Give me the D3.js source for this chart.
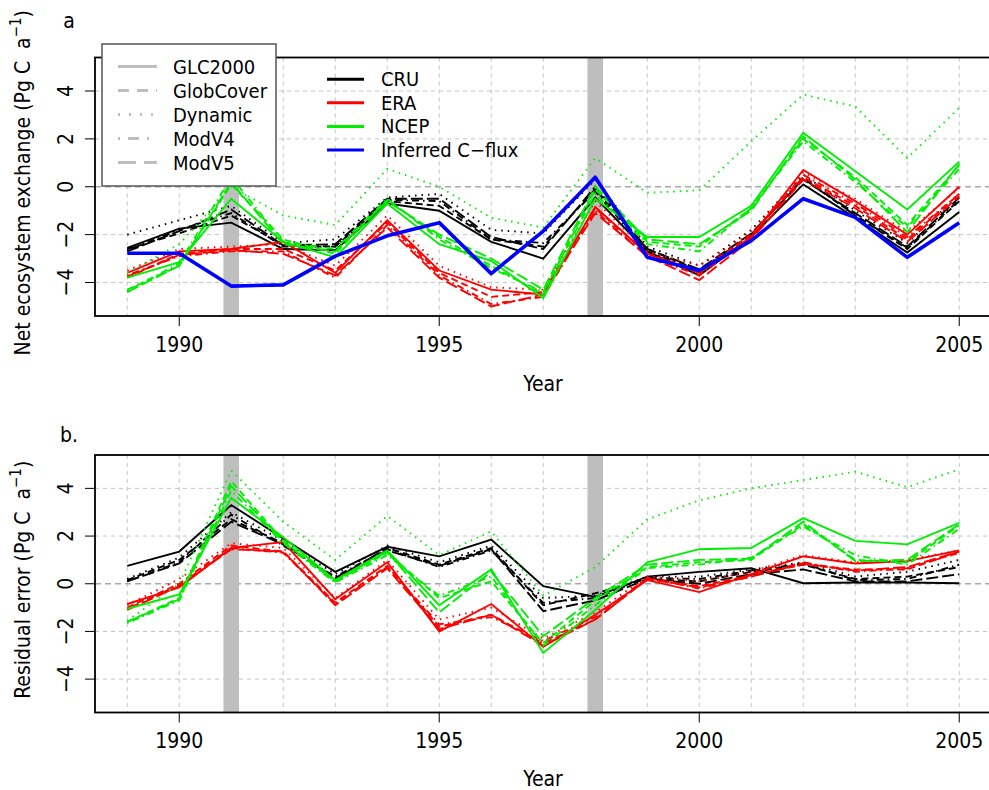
<!DOCTYPE html>
<html>
<head>
<meta charset="utf-8">
<script src="https://cdn.jsdelivr.net/npm/d3@7/dist/d3.min.js"></script>
<style>
  body { margin: 0; background: #fff; }
  svg { font-family: "DejaVu Sans Condensed", "DejaVu Sans", sans-serif; }
</style>
</head>
<body>
<div class="container"></div>
<script>
// x values
const years = [1989, 1990, 1991, 1992, 1993, 1994, 1995, 1996, 1997, 1998, 1999, 2000, 2001, 2002, 2003, 2004, 2005];
const xTicks = [1990, 1995, 2000, 2005];
const yTicks = [-4, -2, 0, 2, 4];
const highlightYears = [1991, 1998];

const drivers = ["CRU", "ERA", "NCEP"];
const covers = ["GLC2000", "GlobCover", "Dynamic", "ModV4", "ModV5"];

// panel a - net ecosystem exchange, one array per driver x land cover
const neeCRU_GLC2000   = [-2.55, -1.75, -1.5, -2.6, -2.65, -0.7, -1.0, -2.3, -3.0, -0.45, -2.7, -3.7, -2.1, 0.1, -1.3, -2.75, -1.05];
const neeCRU_GlobCover = [-2.6, -1.95, -1.2, -2.45, -2.5, -0.6, -0.8, -2.2, -2.5, -0.1, -2.6, -3.5, -2.0, 0.4, -1.2, -2.6, -0.6];
const neeCRU_Dynamic   = [-2.0, -1.4, -0.8, -2.35, -2.2, -0.45, -0.3, -1.8, -1.95, 0.3, -2.5, -3.3, -1.8, 0.5, -1.0, -2.35, -0.35];
const neeCRU_ModV4     = [-2.65, -1.8, -1.1, -2.5, -2.5, -0.55, -0.6, -2.2, -2.35, -0.2, -2.7, -3.5, -2.0, 0.35, -1.2, -2.55, -0.55];
const neeCRU_ModV5     = [-2.7, -1.85, -0.95, -2.45, -2.4, -0.5, -0.5, -2.1, -2.6, 0.0, -2.6, -3.45, -1.95, 0.3, -1.1, -2.5, -0.45];

const neeERA_GLC2000   = [-3.6, -2.7, -2.6, -2.3, -3.6, -1.4, -3.5, -4.3, -4.5, -0.85, -2.8, -3.6, -2.1, 0.7, -0.6, -2.0, 0.0];
const neeERA_GlobCover = [-3.8, -2.8, -2.6, -2.6, -3.5, -1.5, -3.6, -4.6, -4.4, -0.9, -2.8, -3.5, -2.0, 0.4, -0.8, -2.2, -0.3];
const neeERA_Dynamic   = [-3.5, -2.6, -2.5, -2.4, -3.3, -1.2, -3.3, -4.2, -4.3, -0.6, -2.7, -3.3, -1.9, 0.6, -0.5, -1.9, -0.05];
const neeERA_ModV4     = [-3.7, -2.9, -2.7, -2.7, -3.8, -1.6, -3.7, -4.9, -4.6, -1.0, -2.9, -3.7, -2.1, 0.5, -0.7, -2.1, -0.3];
const neeERA_ModV5     = [-3.75, -2.85, -2.65, -2.8, -3.7, -1.7, -3.8, -5.0, -4.5, -1.1, -2.9, -3.9, -2.2, 0.3, -0.9, -2.3, -0.4];

const neeNCEP_GLC2000   = [-3.8, -3.15, -0.5, -2.3, -2.95, -0.7, -2.4, -3.1, -4.65, -0.5, -2.1, -2.1, -0.8, 2.25, 0.65, -0.95, 1.05];
const neeNCEP_GlobCover = [-4.3, -3.3, 0.1, -2.2, -2.8, -0.55, -2.1, -3.3, -4.5, -0.1, -2.3, -2.5, -0.9, 2.0, 0.4, -1.6, 0.9];
const neeNCEP_Dynamic   = [-3.6, -2.4, 0.0, -1.2, -1.6, 0.75, 0.0, -1.3, -1.7, 1.2, -0.25, -0.15, 1.9, 3.85, 3.35, 1.2, 3.3];
const neeNCEP_ModV4     = [-4.35, -3.2, 0.4, -2.3, -2.6, -0.5, -2.2, -3.4, -4.4, -0.3, -2.4, -2.7, -0.9, 1.9, 0.2, -1.7, 0.75];
const neeNCEP_ModV5     = [-4.4, -3.3, 0.2, -2.4, -2.7, -0.6, -2.0, -3.0, -4.3, 0.0, -2.2, -2.4, -1.0, 2.1, 0.3, -1.9, 0.95];

const inferredFlux = [-2.78, -2.78, -4.15, -4.1, -2.9, -2.05, -1.5, -3.63, -1.85, 0.4, -2.95, -3.5, -2.25, -0.5, -1.28, -2.95, -1.5];

// panel b - residual error
const resCRU_GLC2000   = [0.75, 1.35, 3.3, 1.9, 0.5, 1.55, 1.15, 1.85, -0.1, -0.55, 0.3, 0.5, 0.65, 0.02, 0.05, 0.05, 0.02];
const resCRU_GlobCover = [0.15, 1.0, 2.7, 1.7, 0.2, 1.5, 0.8, 1.5, -0.9, -0.4, 0.2, 0.1, 0.5, 0.8, 0.2, 0.3, 0.7];
const resCRU_Dynamic   = [0.2, 1.1, 3.0, 1.8, 0.4, 1.6, 0.9, 1.6, -0.6, -0.5, 0.3, 0.3, 0.6, 0.9, 0.3, 0.5, 1.0];
const resCRU_ModV4     = [0.1, 0.9, 2.9, 1.6, 0.3, 1.45, 0.7, 1.4, -0.8, -0.6, 0.25, 0.2, 0.55, 0.85, 0.15, 0.2, 0.8];
const resCRU_ModV5     = [0.1, 0.85, 2.6, 1.65, 0.25, 1.4, 0.75, 1.45, -1.15, -0.7, 0.2, 0.0, 0.4, 0.6, 0.1, 0.1, 0.4];

const resERA_GLC2000   = [-0.85, -0.15, 1.5, 1.75, -0.65, 0.9, -2.0, -0.85, -2.65, -1.3, 0.15, -0.35, 0.4, 1.15, 0.85, 0.95, 1.4];
const resERA_GlobCover = [-1.0, 0.0, 1.6, 1.35, -0.8, 0.75, -1.8, -1.3, -2.5, -1.5, 0.2, -0.1, 0.35, 0.8, 0.6, 0.6, 1.35];
const resERA_Dynamic   = [-0.9, 0.2, 1.7, 1.5, -0.6, 1.0, -1.5, -1.0, -2.3, -1.2, 0.3, 0.1, 0.5, 1.2, 0.9, 1.0, 1.4];
const resERA_ModV4     = [-1.05, -0.05, 1.5, 1.3, -0.85, 0.7, -1.7, -1.4, -2.4, -1.4, 0.25, -0.2, 0.3, 0.9, 0.5, 0.65, 1.3];
const resERA_ModV5     = [-1.1, -0.1, 1.45, 1.35, -0.9, 0.65, -1.9, -1.3, -2.6, -1.5, 0.2, -0.15, 0.3, 0.85, 0.55, 0.7, 1.35];

const resNCEP_GLC2000   = [-1.05, -0.45, 3.6, 1.95, 0.15, 1.4, -0.9, 0.6, -2.9, -1.1, 0.9, 1.45, 1.5, 2.75, 1.8, 1.65, 2.55];
const resNCEP_GlobCover = [-1.6, -0.6, 4.3, 1.8, 0.1, 1.3, -0.6, 0.1, -2.5, -0.7, 0.7, 0.9, 1.0, 2.5, 1.0, 0.9, 2.45];
const resNCEP_Dynamic   = [-1.55, 0.0, 4.75, 2.6, 1.0, 2.85, 1.2, 2.2, -0.5, 0.7, 2.7, 3.5, 4.0, 4.35, 4.7, 4.05, 4.8];
const resNCEP_ModV4     = [-1.65, -0.7, 3.9, 1.7, 0.05, 1.2, -0.5, 0.3, -2.6, -0.9, 0.65, 0.8, 1.1, 2.4, 1.2, 0.8, 2.3];
const resNCEP_ModV5     = [-1.6, -0.65, 4.1, 1.75, 0.1, 1.35, -1.2, 0.5, -2.2, -0.6, 0.8, 1.0, 1.05, 2.6, 0.95, 1.0, 2.5];

// lookup tables built from the arrays above
const neeSeries = {
  CRU:  [neeCRU_GLC2000, neeCRU_GlobCover, neeCRU_Dynamic, neeCRU_ModV4, neeCRU_ModV5],
  ERA:  [neeERA_GLC2000, neeERA_GlobCover, neeERA_Dynamic, neeERA_ModV4, neeERA_ModV5],
  NCEP: [neeNCEP_GLC2000, neeNCEP_GlobCover, neeNCEP_Dynamic, neeNCEP_ModV4, neeNCEP_ModV5]
};
const resSeries = {
  CRU:  [resCRU_GLC2000, resCRU_GlobCover, resCRU_Dynamic, resCRU_ModV4, resCRU_ModV5],
  ERA:  [resERA_GLC2000, resERA_GlobCover, resERA_Dynamic, resERA_ModV4, resERA_ModV5],
  NCEP: [resNCEP_GLC2000, resNCEP_GlobCover, resNCEP_Dynamic, resNCEP_ModV4, resNCEP_ModV5]
};

const colors = { CRU: "#000000", ERA: "#ff0000", NCEP: "#00ee00", flux: "#0000ff" };
const dashes = { GLC2000: null, GlobCover: "7,4", Dynamic: "1.5,5", ModV4: "1.5,4,7,4", ModV5: "12,4" };
const legendDashes = { GLC2000: null, GlobCover: "11,8", Dynamic: "2,9", ModV4: "2,8,11,8", ModV5: "18,8" };

const w = 989, h = 790;
const left = 95, right = 991.5;

const svg = d3.select(".container")
  .append("svg")
  .attr("width", w)
  .attr("height", h);

const x = d3.scaleLinear().domain([1988.38, 2005.62]).range([left, right]);

function drawPanel(top, bottom, series, label, labelY, yTitle, tickBase, yearBase, withFlux) {
  const y = d3.scaleLinear().domain([-5.4, 5.4]).range([bottom, top]);
  const g = svg.append("g");

  // grid
  g.selectAll(".vgrid").data(years).enter().append("line")
    .attr("x1", d => x(d)).attr("x2", d => x(d))
    .attr("y1", top).attr("y2", bottom)
    .attr("stroke", "#c4c4c4").attr("stroke-dasharray", "4,4");
  g.selectAll(".hgrid").data(yTicks).enter().append("line")
    .attr("x1", left).attr("x2", right)
    .attr("y1", d => y(d)).attr("y2", d => y(d))
    .attr("stroke", d => d === 0 ? "#a8a8a8" : "#c4c4c4")
    .attr("stroke-width", d => d === 0 ? 1.3 : 1)
    .attr("stroke-dasharray", d => d === 0 ? "6,4" : "4,4");

  // gray bars at years of interest
  g.selectAll(".hl").data(highlightYears).enter().append("rect")
    .attr("x", d => x(d - 0.15))
    .attr("width", d => x(d + 0.15) - x(d - 0.15))
    .attr("y", top).attr("height", bottom - top)
    .attr("fill", "#bebebe");

  const line = d3.line().x((d, i) => x(years[i])).y(d => y(d));

  drivers.forEach(dr => {
    series[dr].forEach((vals, k) => {
      g.append("path")
        .datum(vals)
        .attr("d", line)
        .attr("fill", "none")
        .attr("stroke", colors[dr])
        .attr("stroke-width", 1.9)
        .attr("stroke-dasharray", dashes[covers[k]]);
    });
  });

  if (withFlux) {
    g.append("path")
      .datum(inferredFlux)
      .attr("d", line)
      .attr("fill", "none")
      .attr("stroke", colors.flux)
      .attr("stroke-width", 3.6)
      .attr("stroke-linejoin", "round");
  }

  // frame
  g.append("rect")
    .attr("x", left).attr("y", top)
    .attr("width", right - left).attr("height", bottom - top)
    .attr("fill", "none").attr("stroke", "#000").attr("stroke-width", 1.8);

  // y axis
  g.selectAll(".ytick").data(yTicks).enter().append("line")
    .attr("x1", left - 10).attr("x2", left)
    .attr("y1", d => y(d)).attr("y2", d => y(d))
    .attr("stroke", "#000");
  g.selectAll(".ylab").data(yTicks).enter().append("text")
    .attr("transform", d => `translate(73, ${y(d)}) rotate(-90)`)
    .attr("text-anchor", "middle")
    .style("font-size", "21px")
    .text(d => d < 0 ? "\u2212" + Math.abs(d) : d);

  // x axis
  g.selectAll(".xtick").data(xTicks).enter().append("line")
    .attr("x1", d => x(d)).attr("x2", d => x(d))
    .attr("y1", bottom).attr("y2", bottom + 10)
    .attr("stroke", "#000");
  g.selectAll(".xlab").data(xTicks).enter().append("text")
    .attr("x", d => x(d)).attr("y", tickBase)
    .attr("text-anchor", "middle")
    .style("font-size", "21px")
    .text(d => d);

  g.append("text")
    .attr("x", 543).attr("y", yearBase)
    .attr("text-anchor", "middle")
    .style("font-size", "21px")
    .text("Year");

  const yt = g.append("text")
    .attr("transform", `translate(30, ${(top + bottom) / 2 - 4}) rotate(-90)`)
    .attr("text-anchor", "middle")
    .style("font-size", "21px")
    .style("white-space", "pre");
  yt.append("tspan").text(yTitle + " (Pg C  a");
  yt.append("tspan").attr("dy", -9).style("font-size", "15px").text("\u22121");
  yt.append("tspan").attr("dy", 9).text(")");

  g.append("text")
    .attr("x", 69).attr("y", labelY)
    .attr("text-anchor", "middle")
    .style("font-size", "21px")
    .text(label);
}

drawPanel(57.5, 316, neeSeries, "a", 28, "Net ecosystem exchange", 352, 391, true);
drawPanel(455, 712.5, resSeries, "b.", 442, "Residual error", 748, 786, false);

// legend: land cover line types
const lg1 = svg.append("g");
lg1.append("rect")
  .attr("x", 102).attr("y", 44).attr("width", 174).attr("height", 142)
  .attr("fill", "#fff").attr("stroke", "#555").attr("stroke-width", 1.5);
covers.forEach((c, i) => {
  const yy = 74 + i * 24;
  lg1.append("line")
    .attr("x1", 118).attr("x2", 157)
    .attr("y1", yy - 7.5).attr("y2", yy - 7.5)
    .attr("stroke", "#bebebe").attr("stroke-width", 3)
    .attr("stroke-dasharray", legendDashes[c]);
  lg1.append("text")
    .attr("x", 173).attr("y", yy)
    .style("font-size", "20px")
    .text(c);
});

// legend: drivers
const legendLabels = ["CRU", "ERA", "NCEP", "Inferred C\u2212flux"];
const legendColors = [colors.CRU, colors.ERA, colors.NCEP, colors.flux];
const lg2 = svg.append("g");
legendLabels.forEach((t, i) => {
  const yy = 86 + i * 23.6;
  lg2.append("line")
    .attr("x1", 327).attr("x2", 364)
    .attr("y1", yy - 6.8).attr("y2", yy - 6.8)
    .attr("stroke", legendColors[i]).attr("stroke-width", 3);
  lg2.append("text")
    .attr("x", 381).attr("y", yy)
    .style("font-size", "20px")
    .text(t);
});
</script>
</body>
</html>
